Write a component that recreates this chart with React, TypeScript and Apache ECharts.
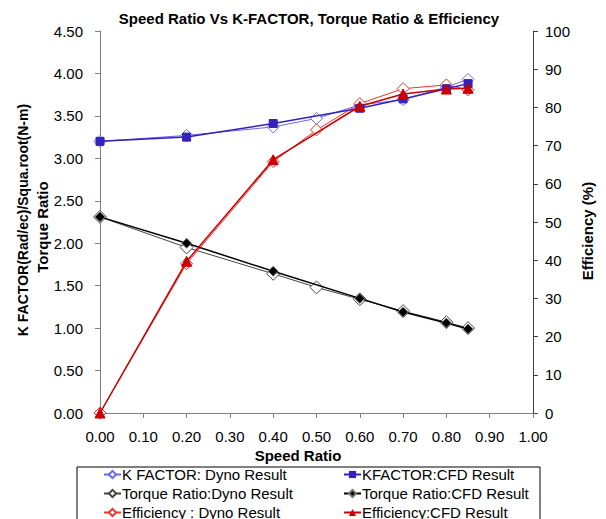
import React, { useEffect, useRef } from "react";
import * as echarts from "echarts";

const xTicks = [0, 0.1, 0.2, 0.3, 0.4, 0.5, 0.6, 0.7, 0.8, 0.9, 1.0];
const dynoX = [0, 0.2, 0.4, 0.5, 0.6, 0.7, 0.8, 0.85];
const cfdX = [0, 0.2, 0.4, 0.6, 0.7, 0.8, 0.85];

const kDyno = [3.2, 3.27, 3.37, 3.47, 3.63, 3.69, 3.84, 3.93];
const kCfd = [3.2, 3.25, 3.41, 3.59, 3.7, 3.82, 3.88];
const tqDyno = [2.31, 1.95, 1.64, 1.48, 1.34, 1.2, 1.07, 1.0];
const tqCfd = [2.31, 2.0, 1.67, 1.35, 1.19, 1.06, 0.99];
const effDyno = [0, 39.1, 65.8, 74.1, 81.0, 84.9, 85.9, 84.6];
const effCfd = [0, 39.7, 66.3, 80.3, 83.5, 84.8, 85.0];

const names = [
  "K FACTOR: Dyno Result",
  "KFACTOR:CFD Result",
  "Torque Ratio:Dyno Result",
  "Torque Ratio:CFD Result",
  "Efficiency : Dyno Result",
  "Efficiency:CFD Result",
];

const pair = (xs: number[], ys: number[]) => xs.map((x, i) => [x, ys[i]]);

const FONT = "'Liberation Sans', Arial, sans-serif";

export default function App() {
  const ref = useRef<HTMLDivElement>(null);
  useEffect(() => {
    const chart = echarts.init(ref.current!, null, { renderer: "svg" });
    const base = { type: "line", animation: false };
    const legendCommon = {
      orient: "vertical",
      top: 462,
      height: 120,
      itemWidth: 17,
      itemHeight: 9,
      itemGap: 4,
      textStyle: { fontSize: 15, color: "#000", fontFamily: FONT, padding: [0, 0, 0, -4] },
    };
    chart.setOption({
      animation: false,
      textStyle: { fontFamily: FONT },
      title: {
        text: "Speed Ratio Vs K-FACTOR, Torque Ratio & Efficiency",
        left: 304,
        textAlign: "center",
        top: 6,
        textStyle: { fontSize: 15, fontWeight: "bold", color: "#000", fontFamily: FONT },
      },
      grid: { left: 100, right: 73, top: 31, bottom: 106 },
      xAxis: {
        type: "value",
        min: 0,
        max: 1,
        interval: 0.1,
        data: xTicks,
        axisLine: { show: true, lineStyle: { color: "#808080" } },
        axisTick: { show: true, inside: false, length: 5, lineStyle: { color: "#808080" } },
        axisLabel: { formatter: (v: number) => v.toFixed(2), color: "#000", fontSize: 15, margin: 16 },
        splitLine: { show: false },
      },
      yAxis: [
        {
          type: "value",
          min: 0,
          max: 4.5,
          interval: 0.5,
          axisLine: { show: true, lineStyle: { color: "#808080" } },
          axisTick: { show: true, length: 5, lineStyle: { color: "#808080" } },
          axisLabel: { formatter: (v: number) => v.toFixed(2), color: "#000", fontSize: 15, margin: 17 },
          splitLine: { show: false },
        },
        {
          type: "value",
          min: 0,
          max: 100,
          interval: 10,
          position: "right",
          axisLine: { show: true, lineStyle: { color: "#404040" } },
          axisTick: { show: true, length: 5, lineStyle: { color: "#404040" } },
          axisLabel: { color: "#000", fontSize: 15, margin: 12 },
          splitLine: { show: false },
        },
      ],
      legend: [
        { ...legendCommon, left: 98, data: [names[0], names[2], names[4]] },
        { ...legendCommon, left: 338, data: [names[1], names[3], names[5]] },
      ],
      graphic: [
        {
          type: "rect",
          shape: { x: 77, y: 467, width: 463, height: 70 },
          style: { fill: "none", stroke: "#000", lineWidth: 1 },
          silent: true,
        },
        {
          type: "text",
          x: 298,
          y: 455,
          style: { text: "Speed Ratio", font: `bold 15px ${FONT}`, fill: "#000", textAlign: "center", textVerticalAlign: "middle" },
        },
        {
          type: "text",
          x: 23,
          y: 220,
          rotation: Math.PI / 2,
          style: { text: "K FACTOR(Rad/ec)/Squa.root(N-m)", font: `bold 14px ${FONT}`, fill: "#000", textAlign: "center", textVerticalAlign: "middle" },
        },
        {
          type: "text",
          x: 42,
          y: 227,
          rotation: Math.PI / 2,
          style: { text: "Torque Ratio", font: `bold 15px ${FONT}`, fill: "#000", textAlign: "center", textVerticalAlign: "middle" },
        },
        {
          type: "text",
          x: 587,
          y: 231,
          rotation: Math.PI / 2,
          style: { text: "Efficiency (%)", font: `bold 15px ${FONT}`, fill: "#000", textAlign: "center", textVerticalAlign: "middle" },
        },
      ],
      series: [
        {
          ...base,
          name: names[0],
          data: pair(dynoX, kDyno),
          symbol: "diamond",
          symbolSize: 12,
          lineStyle: { color: "#6a6aee", width: 1 },
          itemStyle: { color: "#fff", borderColor: "#6a6aee", borderWidth: 1 },
          z: 3,
        },
        {
          ...base,
          name: names[1],
          data: pair(cfdX, kCfd),
          symbol: "rect",
          symbolSize: 8,
          lineStyle: { color: "#3322bb", width: 1.5 },
          itemStyle: { color: "#3322bb", borderColor: "#3322bb" },
          z: 4,
        },
        {
          ...base,
          name: names[2],
          data: pair(dynoX, tqDyno),
          symbol: "diamond",
          symbolSize: 13,
          lineStyle: { color: "#444", width: 1 },
          itemStyle: { color: "#fff", borderColor: "#444", borderWidth: 1 },
          z: 3,
        },
        {
          ...base,
          name: names[3],
          data: pair(cfdX, tqCfd),
          symbol: "diamond",
          symbolSize: 10,
          lineStyle: { color: "#000", width: 1.5 },
          itemStyle: { color: "#000", borderColor: "#777", borderWidth: 1 },
          z: 4,
        },
        {
          ...base,
          name: names[4],
          yAxisIndex: 1,
          data: pair(dynoX, effDyno),
          symbol: "diamond",
          symbolSize: 12,
          lineStyle: { color: "#ee3333", width: 1 },
          itemStyle: { color: "#fff", borderColor: "#ee3333", borderWidth: 1 },
          z: 3,
        },
        {
          ...base,
          name: names[5],
          yAxisIndex: 1,
          data: pair(cfdX, effCfd),
          symbol: "triangle",
          symbolSize: 10,
          lineStyle: { color: "#cc0000", width: 1.5 },
          itemStyle: { color: "#cc0000", borderColor: "#cc0000" },
          z: 4,
        },
      ],
    });
    return () => chart.dispose();
  }, []);
  return <div ref={ref} style={{ width: 606, height: 519, position: "absolute", left: 0, top: 0, background: "#fff" }} />;
}
